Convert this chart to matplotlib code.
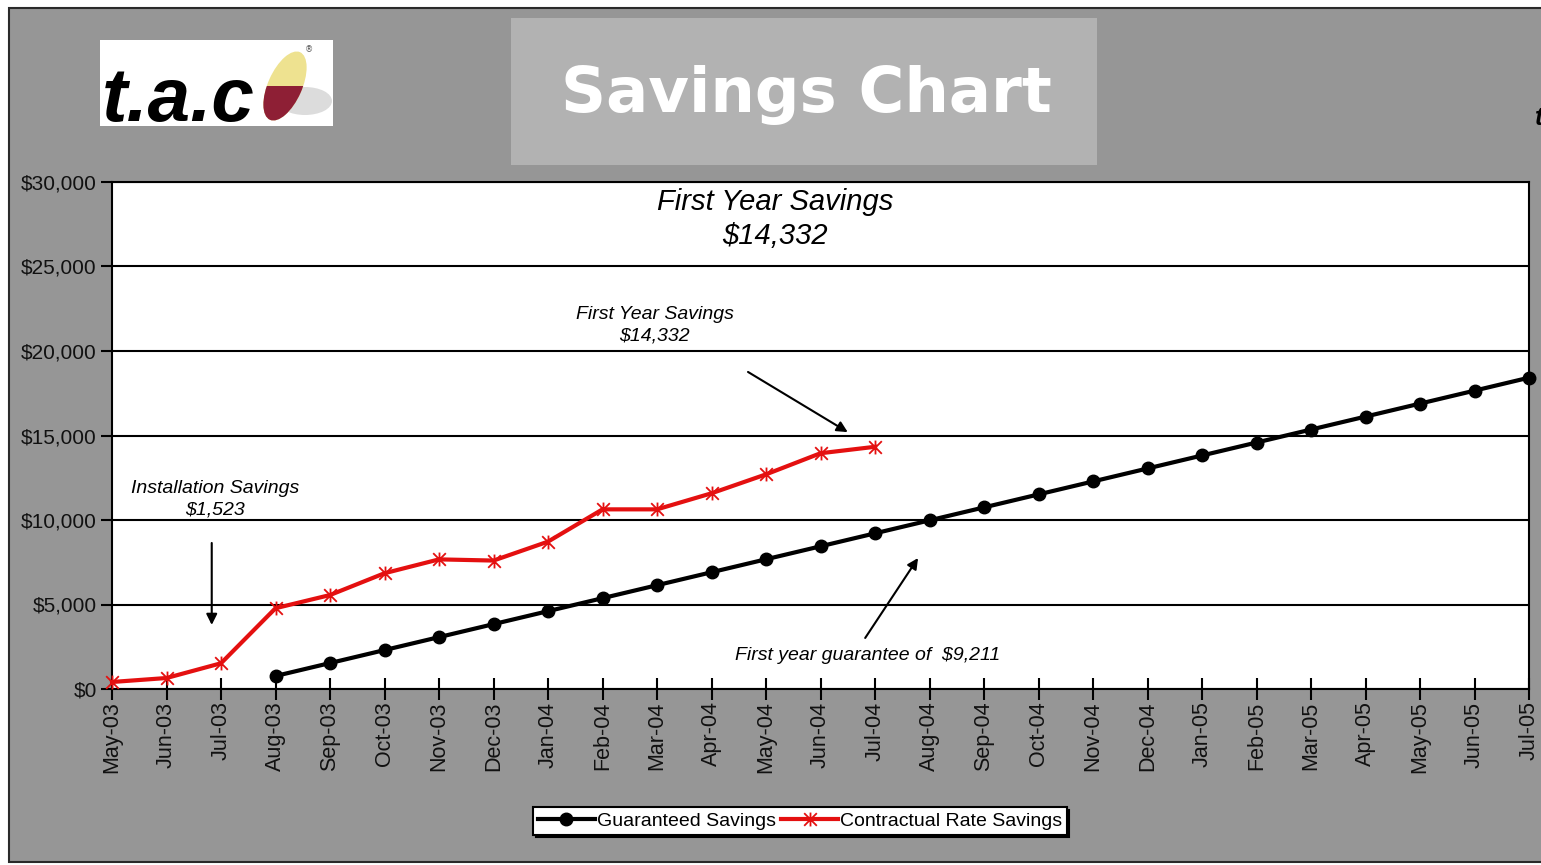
import matplotlib
matplotlib.use("Agg")
import matplotlib.pyplot as plt
from matplotlib.patches import Rectangle, Ellipse
from matplotlib.path import Path
from matplotlib.ticker import FuncFormatter

# ---------------- data ----------------
months = ["May-03", "Jun-03", "Jul-03", "Aug-03", "Sep-03", "Oct-03", "Nov-03", "Dec-03",
          "Jan-04", "Feb-04", "Mar-04", "Apr-04", "May-04", "Jun-04", "Jul-04", "Aug-04",
          "Sep-04", "Oct-04", "Nov-04", "Dec-04", "Jan-05", "Feb-05", "Mar-05", "Apr-05",
          "May-05", "Jun-05", "Jul-05"]
guaranteed_months = months[3:]
guaranteed = [768, 1535, 2303, 3070, 3838, 4606, 5373, 6141, 6908, 7676, 8443, 9211,
              9979, 10746, 11514, 12281, 13049, 13817, 14584, 15352, 16119, 16887, 17654, 18422]
contractual_months = months[:15]
contractual = [415, 650, 1523, 4780, 5560, 6850, 7670, 7600, 8720, 10630, 10630, 11580,
               12700, 13950, 14332]
y_ticks = [0, 5000, 10000, 15000, 20000, 25000, 30000]

W, H = 1541, 865
fig = plt.figure(figsize=(W / 100, H / 100), dpi=100, facecolor="white")

# ---------------- background / decorations (pixel coords) ----------------
bg = fig.add_axes([0, 0, 1, 1], zorder=0)
bg.set_xlim(0, W)
bg.set_ylim(H, 0)
bg.axis("off")
GRAY = "#969696"
bg.add_patch(Rectangle((9, 8), W + 10, 854, facecolor=GRAY, edgecolor="#2a2a2a", lw=1.5))
# title box
bg.add_patch(Rectangle((511, 18), 586, 147, facecolor="#b2b2b2", edgecolor="none"))
bg.text(806, 95, "Savings Chart", color="white", fontsize=45, fontweight="bold",
        family="DejaVu Sans", ha="center", va="center")
# logo
bg.add_patch(Rectangle((100, 40), 233, 86, facecolor="white", edgecolor="none"))
bg.text(102, 121, "t.a.c", color="black", fontsize=55, fontweight="bold", style="italic",
        family="Liberation Sans", ha="left", va="baseline")
bg.add_patch(Ellipse((305, 101), 54, 28, facecolor="#dcdcdc", edgecolor="none"))
bg.add_patch(Ellipse((285, 86), 34, 74, angle=24, facecolor="#eee290", edgecolor="none"))
red_leaf = Ellipse((285, 86), 34, 74, angle=24, facecolor="#8e1f35", edgecolor="none")
bg.add_patch(red_leaf)
clip = Rectangle((200, 86), 200, 60, transform=bg.transData)
red_leaf.set_clip_path(clip)
bg.text(309, 50, "\u00ae", fontsize=6, color="#555555", ha="center", va="center")
bg.text(1535, 118, "t", fontsize=18, fontweight="bold", style="italic", color="black",
        ha="left", va="center", family="Liberation Sans")

# ---------------- main chart ----------------
ax = fig.add_axes([112 / W, 1 - 689 / H, (1529 - 112) / W, (689 - 182) / H], zorder=2)
ax.set_facecolor("white")
xs = {m: i for i, m in enumerate(months)}

star = Path([(-1, -1), (1, 1), (-1, 1), (1, -1), (0, -1.1), (0, 1.1)],
            [Path.MOVETO, Path.LINETO, Path.MOVETO, Path.LINETO, Path.MOVETO, Path.LINETO])

ax.plot([xs[m] for m in guaranteed_months], guaranteed, color="black", lw=3,
        marker="o", ms=9, label="Guaranteed Savings", clip_on=False, zorder=4)
ax.plot([xs[m] for m in contractual_months], contractual, color="#e41010", lw=3,
        marker=star, ms=10, mew=1.3, mec="#e41010", label="Contractual Rate Savings",
        clip_on=False, zorder=5)

ax.set_xlim(0, len(months) - 1)
ax.set_ylim(0, 30000)
ax.set_xticks(range(len(months)))
ax.set_xticklabels(months, rotation=90, family="Liberation Sans", fontsize=15.5, color="#111111")
ax.set_yticks(y_ticks)
ax.yaxis.set_major_formatter(FuncFormatter(lambda v, p: "${:,.0f}".format(v)))
for lab in ax.get_yticklabels():
    lab.set_family("Liberation Sans")
    lab.set_fontsize(15)
    lab.set_color("#111111")
ax.tick_params(axis="x", direction="inout", length=16, width=1.5, pad=1)
ax.tick_params(axis="y", direction="out", length=8, width=1.5, pad=3)
ax.grid(axis="y", color="black", lw=1.5)
ax.set_axisbelow(True)
for s in ax.spines.values():
    s.set_linewidth(1.5)
    s.set_color("black")

# annotations
ax.text(12.17, 27800, "First Year Savings\n$14,332", ha="center", va="center",
        fontsize=21, style="italic", family="Liberation Sans", linespacing=1.3)
ax.text(9.96, 21550, "First Year Savings\n$14,332", ha="center", va="center",
        fontsize=14, style="italic", family="Liberation Sans", linespacing=1.35)
ax.text(1.89, 11250, "Installation Savings\n$1,523", ha="center", va="center",
        fontsize=14, style="italic", family="Liberation Sans", linespacing=1.35)
ax.text(13.87, 2010, "First year guarantee of  $9,211", ha="center", va="center",
        fontsize=14, style="italic", family="Liberation Sans")
arrow = dict(arrowstyle="-|>", color="black", lw=1.5, mutation_scale=16, shrinkA=0, shrinkB=0)
ax.annotate("", xy=(13.50, 15200), xytext=(11.67, 18760), arrowprops=arrow)
ax.annotate("", xy=(1.83, 3790), xytext=(1.83, 8640), arrowprops=arrow)
ax.annotate("", xy=(14.79, 7750), xytext=(13.82, 3020), arrowprops=arrow)

leg = ax.legend(loc="center", bbox_to_anchor=(800 / W, 1 - 821 / H), bbox_transform=fig.transFigure,
                ncol=2, frameon=True, fancybox=False, shadow={"color": "black", "alpha": 1},
                edgecolor="black", framealpha=1, prop={"family": "Liberation Sans", "size": 14},
                handlelength=2.9, handletextpad=0.1, columnspacing=0.3, borderpad=0.25,
                borderaxespad=0)
leg.get_frame().set_linewidth(1.5)

fig.savefig("out.png", dpi=100, facecolor=fig.get_facecolor())
